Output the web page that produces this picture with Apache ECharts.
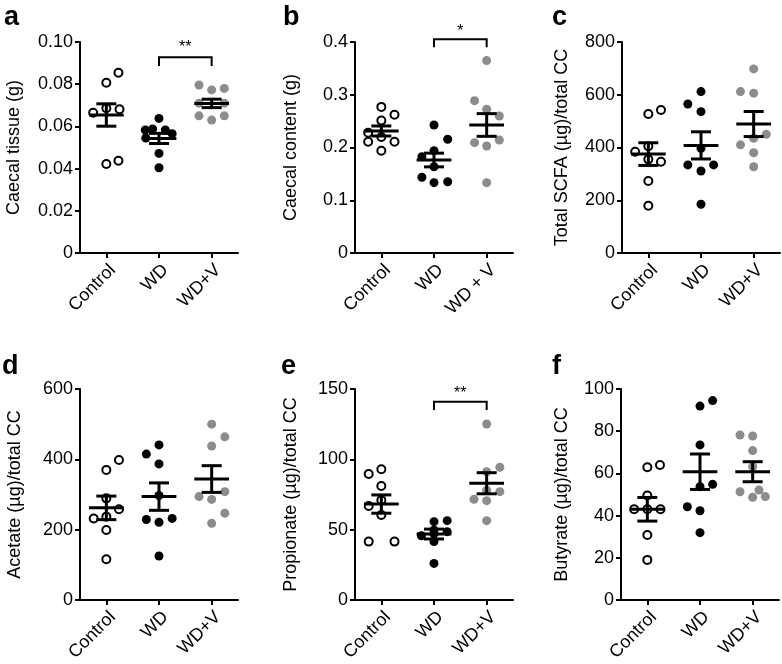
<!DOCTYPE html>
<html>
<head>
<meta charset="utf-8">
<script src="https://cdn.jsdelivr.net/npm/echarts@6/dist/echarts.min.js"></script>
<style>
html,body{margin:0;padding:0;background:#fff;}
#chart{width:782px;height:664px;}
</style>
</head>
<body>
<div id="chart"></div>
<script>
// ---------------- DATA ----------------
const catsStd = ['Control', 'WD', 'WD+V'];
const catsB = ['Control', 'WD', 'WD + V'];

// Panel a: Caecal tissue (g)
const aControl = [0.0854, 0.0807, 0.0665, 0.0686, 0.0681, 0.0422, 0.0437];
const aControlJit = [0.23, 0, -0.25, 0, 0.25, 0, 0.23];
const aWD = [0.0638, 0.0583, 0.0588, 0.0583, 0.0565, 0.0545, 0.0472, 0.0404];
const aWDJit = [0, -0.26, -0.12, 0.12, 0.25, -0.25, 0, 0];
const aWDV = [0.0796, 0.0773, 0.0780, 0.0710, 0.0710, 0.0650, 0.0630, 0.0650];
const aWDVJit = [-0.24, 0, 0.24, -0.24, 0.24, -0.24, 0, 0.24];
const aMean = [0.0654, 0.0543, 0.0709];
const aSem = [0.0053, 0.0024, 0.0020];
const aTicks = ['0', '0.02', '0.04', '0.06', '0.08', '0.10'];

// Panel b: Caecal content (g)
const bControl = [0.277, 0.262, 0.251, 0.228, 0.220, 0.211, 0.211, 0.194];
const bControlJit = [0, 0.25, 0, -0.25, 0, -0.25, 0.25, 0];
const bWD = [0.2427, 0.2156, 0.194, 0.1827, 0.1636, 0.1435, 0.1333, 0.135];
const bWDJit = [0, 0.26, 0, -0.23, 0, -0.23, 0, 0.26];
const bWDV = [0.3647, 0.2888, 0.2725, 0.2597, 0.2092, 0.2029, 0.2142, 0.1333];
const bWDVJit = [0, -0.23, 0, 0.24, -0.23, 0, 0.24, 0];
const bMean = [0.2313, 0.1763, 0.2427];
const bSem = [0.0095, 0.013, 0.0215];
const bTicks = ['0', '0.1', '0.2', '0.3', '0.4'];

// Panel c: Total SCFA (µg)/total CC
const cControl = [527, 542, 384, 405, 355, 346, 273, 179];
const cControlJit = [0, 0.24, -0.25, 0, 0, 0.24, 0, 0];
const cWD = [612, 565, 536, 397, 334, 311, 334, 185];
const cWDJit = [0, -0.25, 0, 0, -0.25, 0, 0.24, 0];
const cWDV = [698, 612, 606, 450, 410, 435, 380, 327];
const cWDVJit = [0, -0.25, 0, 0.24, -0.25, 0, 0, 0];
const cMean = [375, 408, 489];
const cSem = [43, 51.5, 47.5];
const cTicks = ['0', '200', '400', '600', '800'];

// Panel d: Acetate (µg)/total CC
const dControl = [398, 370, 289, 232, 258, 237, 199, 116];
const dControlJit = [0.24, 0, 0, -0.24, 0.24, 0, 0, 0];
const dWD = [441, 415, 387, 297, 229, 221, 232, 125];
const dWDJit = [0, -0.24, 0, 0, -0.24, 0, 0.25, 0];
const dWDV = [500, 464, 438, 294, 286, 308, 247, 218];
const dWDVJit = [0, 0.25, 0, -0.24, 0, 0.25, 0.25, 0];
const dMean = [262, 294, 344];
const dSem = [33.5, 39, 38];
const dTicks = ['0', '200', '400', '600'];

// Panel e: Propionate (µg)/total CC
const eControl = [89.6, 92.9, 81, 66.8, 71, 60.4, 41.5, 41.5];
const eControlJit = [-0.24, 0, 0, -0.24, 0, 0, -0.24, 0.25];
const eWD = [55.7, 56.4, 45.7, 49.8, 48.6, 41.5, 26, 47];
const eWDJit = [0, 0.25, -0.24, 0, 0.25, 0, 0, 0];
const eWDV = [125.1, 94.3, 91.2, 71.6, 70.6, 77, 56.4, 78];
const eWDVJit = [0, 0.25, 0, -0.24, 0, 0.25, 0, 0];
const eMean = [68.2, 46.9, 83];
const eSem = [6.5, 3.5, 7.5];
const eTicks = ['0', '50', '100', '150'];

// Panel f: Butyrate (µg)/total CC
const fControl = [62.9, 64, 49.5, 43, 43, 43, 30.8, 19];
const fControlJit = [0, 0.24, 0, -0.25, 0, 0.25, 0, 0];
const fWD = [91.9, 94.5, 73.5, 53.7, 54.8, 44.2, 42.3, 31.9];
const fWDJit = [0, 0.24, 0, 0, 0.24, -0.24, 0, 0];
const fWDV = [78.2, 77.7, 70.8, 63.2, 51.3, 52.1, 48.7, 49];
const fWDVJit = [-0.24, 0, 0, 0, -0.24, 0.12, 0, 0.24];
const fMean = [43, 60.8, 60.8];
const fSem = [5.6, 8.4, 4.75];
const fTicks = ['0', '20', '40', '60', '80', '100'];

// significance brackets: [fromCat, toCat, topValue, endValue, starValue, label]
const aSig = [1, 2, 0.0928, 0.0886, 0.0986, '**'];
const bSig = [1, 2, 0.405, 0.390, 0.426, '*'];
const eSig = [1, 2, 141, 135, 148.6, '**'];

// ---------------- BUILD ----------------
const FONT = 'Liberation Sans, Arial, Helvetica, sans-serif';
const panels = [
  {L:'a', name:'Caecal tissue (g)', cats:catsStd, max:0.10, itv:0.02, ticks:aTicks,
   groups:[[aControl,aControlJit],[aWD,aWDJit],[aWDV,aWDVJit]], mean:aMean, sem:aSem, sig:aSig,
   left:80, top:42, gap:57, lx:4, ly:4},
  {L:'b', name:'Caecal content (g)', cats:catsB, max:0.4, itv:0.1, ticks:bTicks,
   groups:[[bControl,bControlJit],[bWD,bWDJit],[bWDV,bWDVJit]], mean:bMean, sem:bSem, sig:bSig,
   left:355, top:42, gap:55, lx:283, ly:4},
  {L:'c', name:'Total SCFA (µg)/total CC', cats:catsStd, max:800, itv:200, ticks:cTicks,
   groups:[[cControl,cControlJit],[cWD,cWDJit],[cWDV,cWDVJit]], mean:cMean, sem:cSem, sig:null,
   left:622, top:42, gap:51, lx:552, ly:4},
  {L:'d', name:'Acetate (µg)/total CC', cats:catsStd, max:600, itv:200, ticks:dTicks,
   groups:[[dControl,dControlJit],[dWD,dWDJit],[dWDV,dWDVJit]], mean:dMean, sem:dSem, sig:null,
   left:80, top:389, gap:56, lx:2, ly:353},
  {L:'e', name:'Propionate (µg)/total CC', cats:catsStd, max:150, itv:50, ticks:eTicks,
   groups:[[eControl,eControlJit],[eWD,eWDJit],[eWDV,eWDVJit]], mean:eMean, sem:eSem, sig:eSig,
   left:355, top:389, gap:55, lx:281, ly:353},
  {L:'f', name:'Butyrate (µg)/total CC', cats:catsStd, max:100, itv:20, ticks:fTicks,
   groups:[[fControl,fControlJit],[fWD,fWDJit],[fWDV,fWDVJit]], mean:fMean, sem:fSem, sig:null,
   left:621, top:389, gap:50, lx:552, ly:353}
];

const grids = [], xAxes = [], yAxes = [], series = [], titles = [];
const markerStyles = [
  {symbolSize:8, itemStyle:{color:'#ffffff', borderColor:'#000', borderWidth:2, opacity:1}},
  {symbolSize:9, itemStyle:{color:'#000000', opacity:1}},
  {symbolSize:9, itemStyle:{color:'#8c8c8c', opacity:1}}
];

panels.forEach((p, i) => {
  grids.push({left:p.left, top:p.top, width:158, height:211, containLabel:false});
  titles.push({text:p.L, left:p.lx, top:p.ly, padding:0,
    textStyle:{fontSize:27, fontWeight:'bold', color:'#000', fontFamily:FONT}});
  // visible category axis
  xAxes.push({type:'category', gridIndex:i, data:p.cats, boundaryGap:true,
    axisLine:{show:true, onZero:false, lineStyle:{color:'#000', width:2}},
    axisTick:{show:true, alignWithLabel:true, length:5, lineStyle:{color:'#000', width:2}},
    axisLabel:{rotate:45, interval:0, fontSize:18, color:'#000', margin:8, fontFamily:FONT,
      verticalAlign:'top'},
    splitLine:{show:false}});
  // hidden value axis for placing points
  xAxes.push({type:'value', gridIndex:i, min:-0.5, max:2.5, show:false});
  const ticks = p.ticks;
  yAxes.push({type:'value', gridIndex:i, min:0, max:p.max, interval:p.itv,
    name:p.name, nameLocation:'middle', nameGap:p.gap,
    nameTextStyle:{fontSize:18, color:'#000', fontFamily:FONT},
    axisLine:{show:true, onZero:false, lineStyle:{color:'#000', width:2}},
    axisTick:{show:true, length:5, lineStyle:{color:'#000', width:2}},
    axisLabel:{fontSize:18, color:'#000', margin:7, fontFamily:FONT,
      formatter:(v, idx) => ticks[idx]},
    splitLine:{show:false}});
  const xv = i * 2 + 1;
  p.groups.forEach((g, gi) => {
    const vals = g[0], jit = g[1];
    series.push(Object.assign({type:'scatter', xAxisIndex:xv, yAxisIndex:i, symbol:'circle',
      z:2, silent:true,
      data: vals.map((v, k) => [gi + jit[k], v])}, markerStyles[gi]));
  });
  // mean ± SEM
  series.push({type:'custom', xAxisIndex:xv, yAxisIndex:i, z:5, silent:true,
    encode:{x:0, y:1},
    data: p.mean.map((m, k) => [k, m, p.sem[k]]),
    renderItem:(params, api) => {
      const x = api.value(0), m = api.value(1), s = api.value(2);
      const c = api.coord([x, m]);
      const t = api.coord([x, m + s]);
      const b = api.coord([x, m - s]);
      const band = api.size([1, 0])[0];
      const hw = 0.33 * band, cw = 0.19 * band;
      const st = {stroke:'#000', lineWidth:3};
      return {type:'group', children:[
        {type:'line', shape:{x1:c[0]-hw, y1:c[1], x2:c[0]+hw, y2:c[1]}, style:st},
        {type:'line', shape:{x1:c[0], y1:t[1], x2:c[0], y2:b[1]}, style:st},
        {type:'line', shape:{x1:c[0]-cw, y1:t[1], x2:c[0]+cw, y2:t[1]}, style:st},
        {type:'line', shape:{x1:c[0]-cw, y1:b[1], x2:c[0]+cw, y2:b[1]}, style:st}
      ]};
    }});
  if (p.sig) {
    series.push({type:'custom', xAxisIndex:xv, yAxisIndex:i, z:5, silent:true, clip:false,
      encode:{x:0, y:2},
      data:[p.sig],
      renderItem:(params, api) => {
        const x1 = api.value(0), x2 = api.value(1);
        const yt = api.value(2), ye = api.value(3), ys = api.value(4);
        const pTL = api.coord([x1, yt]), pTR = api.coord([x2, yt]);
        const pEL = api.coord([x1, ye]);
        const pS = api.coord([(x1 + x2) / 2, ys]);
        const st = {stroke:'#000', lineWidth:2, fill:null};
        return {type:'group', children:[
          {type:'polyline', shape:{points:[[pTL[0], pEL[1]], [pTL[0], pTL[1]], [pTR[0], pTR[1]], [pTR[0], pEL[1]]]}, style:st},
          {type:'text', x:pS[0], y:pS[1] + 3, style:{text:p.sig[5], fontSize:16, fontFamily:FONT,
            fill:'#000', align:'center', verticalAlign:'middle', textAlign:'center', textVerticalAlign:'middle'}}
        ]};
      }});
  }
});

const chart = echarts.init(document.getElementById('chart'), null, {renderer:'canvas'});
chart.setOption({
  animation:false,
  backgroundColor:'#ffffff',
  title:titles,
  grid:grids,
  xAxis:xAxes,
  yAxis:yAxes,
  series:series
});
</script>
</body>
</html>
